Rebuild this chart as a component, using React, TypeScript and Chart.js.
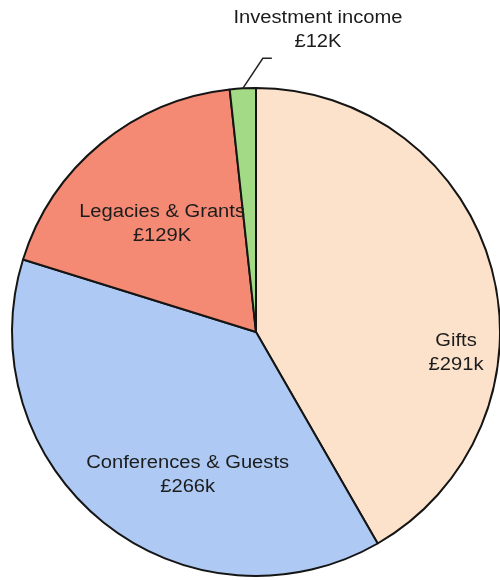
import React, { useEffect, useRef } from "react";
import { Chart, registerables } from "chart.js";

Chart.register(...registerables);

const categories = ["Gifts", "Conferences & Guests", "Legacies & Grants", "Investment income"];
const valueLabels = ["£291k", "£266k", "£129K", "£12K"];
const values = [291, 266, 129, 12];
const colors = ["#FCE2CB", "#AECAF4", "#F48A74", "#A3DA86"];

// label anchor positions relative to pie centre, in units of radius
const labelOffsets = [
  { x: 0.82, y: 0.08 },
  { x: -0.28, y: 0.58 },
  { x: -0.385, y: -0.45 },
  { x: 0.254, y: -1.245 },
];

const labelPlugin = {
  id: "sliceLabels",
  afterDraw(chart: any) {
    const meta = chart.getDatasetMeta(0);
    const arcs = meta.data;
    if (!arcs.length) return;
    const { x: cx, y: cy, outerRadius: r } = arcs[0].getProps(["x", "y", "outerRadius"], true);
    const ctx = chart.ctx;
    ctx.save();
    // leader line for the small slice
    const last = arcs[arcs.length - 1];
    const { startAngle, endAngle } = last.getProps(["startAngle", "endAngle"], true);
    const mid = (startAngle + endAngle) / 2;
    const ex = cx + Math.cos(mid) * r;
    const ey = cy + Math.sin(mid) * r;
    ctx.strokeStyle = "#222";
    ctx.lineWidth = 1.5;
    ctx.beginPath();
    ctx.moveTo(ex, ey);
    ctx.lineTo(ex + 20, ey - 30);
    ctx.lineTo(ex + 29, ey - 30);
    ctx.stroke();

    ctx.fillStyle = "#1c1c1c";
    ctx.font = "18px 'Liberation Sans', Arial, sans-serif";
    ctx.textAlign = "center";
    ctx.textBaseline = "alphabetic";
    const lineGap = 24;
    categories.forEach((name, i) => {
      const off = labelOffsets[i];
      const lx = cx + off.x * r;
      const ly = cy + off.y * r;
      const lines = [name, valueLabels[i]];
      lines.forEach((t, j) => {
        const yy = ly + (j - 0.5) * lineGap + 6.5;
        ctx.save();
        ctx.translate(lx, yy);
        ctx.scale(1.12, 1);
        ctx.fillText(t, 0, 0);
        ctx.restore();
      });
    });
    ctx.restore();
  },
};

export default function App() {
  const ref = useRef<HTMLCanvasElement>(null);
  useEffect(() => {
    document.body.style.margin = "0";
    document.body.style.background = "#fff";
    const chart = new Chart(ref.current!, {
      type: "pie",
      data: {
        labels: categories,
        datasets: [
          {
            data: values,
            backgroundColor: colors,
            borderColor: "#151515",
            borderWidth: 2,
          },
        ],
      },
      options: {
        animation: false,
        responsive: false,
        radius: 244,
        layout: { padding: { left: 12, right: 0, top: 88, bottom: 4 } },
        plugins: {
          legend: { display: false },
          tooltip: { enabled: false },
        },
      } as any,
      plugins: [labelPlugin],
    });
    return () => chart.destroy();
  }, []);
  return (
    <div style={{ width: 500, height: 580, background: "#fff" }}>
      <canvas ref={ref} width={500} height={580} style={{ display: "block" }} />
    </div>
  );
}
